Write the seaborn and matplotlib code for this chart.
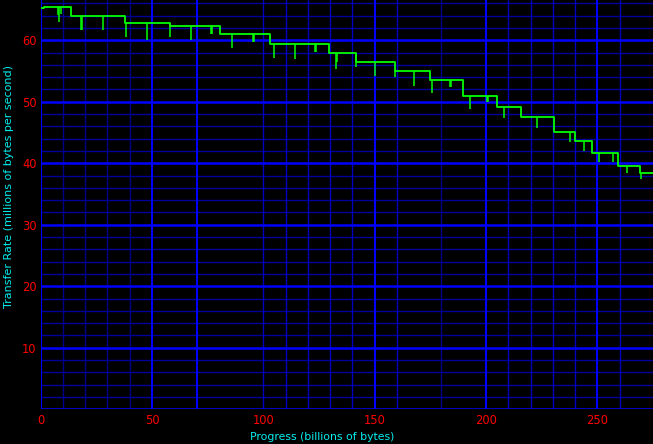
import numpy as np
import pandas as pd
import matplotlib
matplotlib.use("Agg")
import matplotlib.pyplot as plt
import seaborn as sns

# ---- data ----
step_x = [0, 1.5, 13.4, 37.9, 58.2, 80.5, 103.2, 129.7, 141.6, 159.1, 174.9,
          189.7, 205.0, 215.7, 230.5, 240.0, 247.6, 259.3, 269.2, 275.0]
step_y = [65.2, 65.45, 63.95, 62.75, 62.4, 61.1, 59.4, 57.9, 56.4, 55.0, 53.5,
          50.9, 49.1, 47.5, 45.1, 43.6, 41.7, 39.55, 38.5, 38.5]

dip_x = [7.9, 8.4, 9.0, 18.0, 18.4, 28.0, 38.2, 47.7, 57.9, 67.3, 76.5, 77.0,
         85.9, 95.3, 95.8, 104.9, 114.3, 123.3, 123.7, 132.7, 133.1, 141.5,
         150.2, 159.3, 167.8, 175.8, 183.8, 184.2, 192.6, 200.5, 200.9, 208.3,
         223.0, 237.8, 244.1, 250.9, 257.2, 263.4, 269.4]
dip_y = [64.1, 62.9, 64.3, 61.6, 61.6, 61.6, 60.5, 60.0, 60.5, 60.0, 61.1, 61.1,
         58.7, 59.8, 59.8, 57.2, 56.9, 58.1, 58.1, 55.4, 56.5, 55.7,
         54.2, 54.1, 52.6, 51.4, 52.4, 52.4, 48.8, 49.9, 49.9, 47.3,
         45.7, 43.5, 42.05, 40.2, 40.2, 38.4, 37.4]

x_ticks = [0, 50, 100, 150, 200, 250]
y_ticks = [10, 20, 30, 40, 50, 60]

# grid layout of the reference
vgrid_bright = [0, 50, 70, 150, 200, 250]
vgrid_mid = [100, 110, 120, 130, 140, 160, 210, 220, 230, 240, 260]
vgrid_dim = [10, 20, 30, 40, 180]
hgrid_major = [0, 10, 20, 30, 40, 50, 60]
hgrid_minor = [v for v in range(2, 67, 2) if v % 10 != 0]

sns.set_theme(style="dark", rc={"axes.facecolor": "black",
                                "figure.facecolor": "black"})
plt.rcParams["font.family"] = ["DejaVu Sans"]

W, H = 653, 444
fig = plt.figure(figsize=(W / 100, H / 100), dpi=100, facecolor="black")
x0, yb = 40.7, 409.3
ax = fig.add_axes([x0 / W, 1 - yb / H, 1 - x0 / W, yb / H])
ax.set_facecolor("black")

for v in hgrid_minor:
    ax.axhline(v, color="#00009c", lw=1.0, zorder=0)
for v in vgrid_dim:
    ax.axvline(v, color="#000088", lw=1.0, zorder=0)
for v in vgrid_mid:
    ax.axvline(v, color="#0000c0", lw=1.0, zorder=0)
for v in hgrid_major:
    ax.axhline(v, color="#0000ff", lw=1.8, zorder=0.5)
for v in vgrid_bright:
    ax.axvline(v, color="#0000ff", lw=1.5, zorder=0.5)

df = pd.DataFrame({"progress": step_x, "rate": step_y})
sns.lineplot(data=df, x="progress", y="rate", ax=ax, color="#00ff00",
             lw=1.3, drawstyle="steps-post", estimator=None, sort=False,
             zorder=3)

idx = np.searchsorted(np.array(step_x), np.array(dip_x), side="right") - 1
tops = np.array(step_y)[idx]
ax.vlines(dip_x, dip_y, tops, color="#00ff00", lw=1.1, zorder=3)

ax.set_xlim(0, 275)
ax.set_ylim(0, 66.55)
ax.set_xticks(x_ticks)
ax.set_yticks(y_ticks)
ax.set_xticklabels([str(t) for t in x_ticks])
ax.set_yticklabels([str(t) for t in y_ticks])
ax.tick_params(axis="both", colors="#ff0000", labelcolor="#ff0000",
               length=0, labelsize=8.3)
ax.tick_params(axis="x", pad=3.2)
ax.tick_params(axis="y", pad=3.0)
for s in ax.spines.values():
    s.set_visible(False)
ax.set_xlabel("")
ax.set_ylabel("")
ax.grid(False)

fig.text(322 / W, 1 - 437 / H, "Progress (billions of bytes)", color="#00eeee",
         fontsize=7.8, ha="center", va="center")
fig.text(9.2 / W, 1 - 186 / H, "Transfer Rate (millions of bytes per second)",
         color="#00eeee", fontsize=8.0, ha="center", va="center", rotation=90)

fig.savefig("out.png", dpi=100, facecolor="black")
